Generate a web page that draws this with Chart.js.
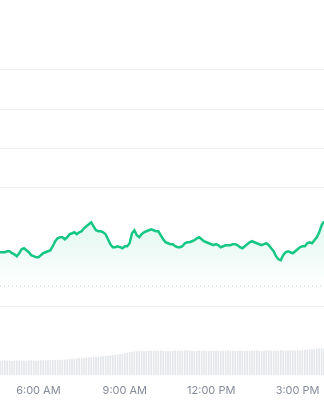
<!DOCTYPE html>
<html>
<head>
<meta charset="utf-8">
<script src="https://cdn.jsdelivr.net/npm/chart.js@4"></script>
<style>
	html, body { margin: 0; padding: 0; background: #fff; }
	.chart-box { width: 324px; height: 400px; position: relative; }
</style>
</head>
<body>
<div class="chart-box">
	<canvas id="priceChart"></canvas>
</div>

<script>
	// time axis: one point every 5 minutes, starting 4:40 AM
	const startMinute = 280;
	const stepMinutes = 5;
	const tickMinutes = [360, 540, 720, 900];
	// price levels that get a grid line
	const gridLevels = [100, 90, 80, 70, 40];

	const prices = [
		53.67, 53.67, 53.67, 53.92, 53.92, 53.42, 53.16, 52.66, 53.42, 54.43,
		54.68, 54.18, 53.67, 52.91, 52.66, 52.41, 52.41, 52.91, 53.42, 53.67,
		53.92, 54.18, 55.19, 56.46, 57.22, 57.47, 57.47, 56.96, 57.47, 58.23,
		58.48, 58.73, 58.23, 58.73, 58.99, 59.75, 60.25, 60.76, 61.27, 60.25,
		59.24, 58.99, 58.99, 58.73, 58.23, 56.96, 55.70, 54.94, 54.94, 55.19,
		54.94, 54.68, 55.19, 55.19, 55.95, 58.48, 59.24, 57.97, 57.47, 58.23,
		58.73, 58.99, 59.24, 59.49, 59.24, 58.99, 58.99, 57.97, 56.96, 56.20,
		55.95, 55.70, 55.70, 55.19, 54.94, 54.94, 55.19, 55.95, 56.20, 56.20,
		56.46, 56.71, 57.22, 57.47, 56.96, 56.46, 56.20, 55.95, 55.70, 55.44,
		55.70, 55.44, 54.94, 55.19, 55.44, 55.44, 55.44, 55.70, 55.70, 55.44,
		54.94, 54.68, 55.19, 55.70, 56.20, 56.46, 56.20, 55.95, 55.70, 55.44,
		55.70, 55.95, 55.44, 54.68, 53.92, 52.66, 51.90, 51.65, 52.91, 53.67,
		53.92, 53.67, 53.42, 53.92, 54.43, 54.94, 55.19, 55.19, 55.95, 56.20,
		55.95, 56.71, 57.47, 58.73, 60.51, 61.52
	];

	const volumes = [
		5.6, 5.5, 5.7, 5.6, 5.6, 5.5, 5.7, 5.6, 5.6, 5.7,
		5.6, 5.5, 5.6, 5.7, 5.6, 5.6, 5.7, 5.8, 5.7, 5.8,
		5.8, 5.9, 5.8, 5.9, 6.0, 5.9, 6.0, 6.1, 6.2, 6.3,
		6.3, 6.4, 6.5, 6.6, 6.6, 6.7, 6.8, 6.9, 7.0, 7.0,
		7.1, 7.2, 7.3, 7.4, 7.5, 7.6, 7.7, 7.8, 7.9, 8.1,
		8.3, 8.4, 8.6, 8.8, 9.0, 9.2, 9.3, 9.4, 9.5, 9.6,
		9.5, 9.6, 9.7, 9.6, 9.6, 9.5, 9.6, 9.7, 9.6, 9.6,
		9.5, 9.6, 9.6, 9.7, 9.6, 9.5, 9.6, 9.6, 9.7, 9.6,
		9.6, 9.5, 9.6, 9.7, 9.6, 9.6, 9.6, 9.5, 9.6, 9.7,
		9.6, 9.6, 9.5, 9.6, 9.6, 9.7, 9.6, 9.6, 9.5, 9.6,
		9.7, 9.6, 9.6, 9.6, 9.5, 9.6, 9.7, 9.6, 9.6, 9.5,
		9.6, 9.7, 9.6, 9.6, 9.6, 9.5, 9.6, 9.7, 9.6, 9.6,
		9.6, 9.7, 9.6, 9.6, 9.7, 9.7, 9.8, 9.9, 10.0, 10.1,
		10.2, 10.3, 10.4, 10.5, 10.5, 10.6
	];

	const prevClose = 45.06;

	const green = '#16c784';

	function timeLabel(m)
	{
		let h = Math.floor(m / 60);
		const mm = String(m % 60).padStart(2, '0');
		const ampm = h >= 12 ? 'PM' : 'AM';
		h = h % 12;
		if (h === 0) h = 12;
		return h + ':' + mm + ' ' + ampm;
	}

	const minutes = prices.map((p, i) => startMinute + i * stepMinutes);
	const pricePts = prices.map((p, i) => ({ x: minutes[i], y: p }));
	const volumePts = volumes.map((v, i) => ({ x: minutes[i], y: v }));
	const closePts = [
		{ x: minutes[0], y: prevClose },
		{ x: minutes[minutes.length - 1], y: prevClose }
	];

	function fillGradient(context)
	{
		const chart = context.chart;
		const area = chart.chartArea;
		if (!area) return 'rgba(22, 199, 132, 0.08)';
		const top = chart.scales.y.getPixelForValue(Math.max(...prices));
		const bottom = chart.scales.y.getPixelForValue(prevClose);
		const g = chart.ctx.createLinearGradient(0, top, 0, bottom);
		g.addColorStop(0, 'rgba(22, 199, 132, 0.13)');
		g.addColorStop(1, 'rgba(22, 199, 132, 0)');
		return g;
	}

	const ctx = document.getElementById('priceChart').getContext('2d');
	const priceChart = new Chart(ctx, {
		type: 'line',
		data: {
			datasets: [{
				label: 'Price',
				data: pricePts,
				borderColor: green,
				borderWidth: 2.5,
				backgroundColor: fillGradient,
				fill: 'start',
				pointRadius: 0,
				tension: 0,
				yAxisID: 'y',
				order: 1
			}, {
				label: 'Previous close',
				data: closePts,
				borderColor: '#c4c8cf',
				borderWidth: 1,
				borderDash: [1, 3],
				fill: false,
				pointRadius: 0,
				yAxisID: 'y',
				order: 2
			}, {
				type: 'bar',
				label: 'Volume',
				data: volumePts,
				backgroundColor: '#e4e6ea',
				barThickness: 1,
				yAxisID: 'yv',
				order: 3
			}]
		},
		options: {
			responsive: true,
			maintainAspectRatio: false,
			animation: false,
			layout: { padding: { left: 0, right: 0, top: 0, bottom: 3 } },
			plugins: {
				legend: { display: false },
				tooltip: { enabled: false }
			},
			scales: {
				x: {
					type: 'linear',
					offset: false,
					min: minutes[0],
					max: minutes[minutes.length - 1],
					grid: { display: false, drawTicks: false, offset: false },
					border: { display: false },
					afterBuildTicks: (scale) => {
						scale.ticks = tickMinutes.map(v => ({ value: v }));
					},
					afterFit: (scale) => {
						scale.paddingLeft = 0;
						scale.paddingRight = 0;
						scale.height = 22;
					},
					ticks: {
						padding: 9.5,
						maxRotation: 0,
						color: '#858c9b',
						font: { family: 'Inter', size: 11 },
						callback: (v) => timeLabel(v)
					}
				},
				y: {
					min: 22.5,
					max: 117.7,
					border: { display: false },
					afterBuildTicks: (scale) => {
						scale.ticks = gridLevels.map(v => ({ value: v }));
					},
					ticks: { display: false },
					grid: {
						drawTicks: false,
						color: '#f1f2f4'
					}
				},
				yv: {
					display: false,
					min: 0,
					max: 150
				}
			}
		}
	});
</script>
</body>
</html>
